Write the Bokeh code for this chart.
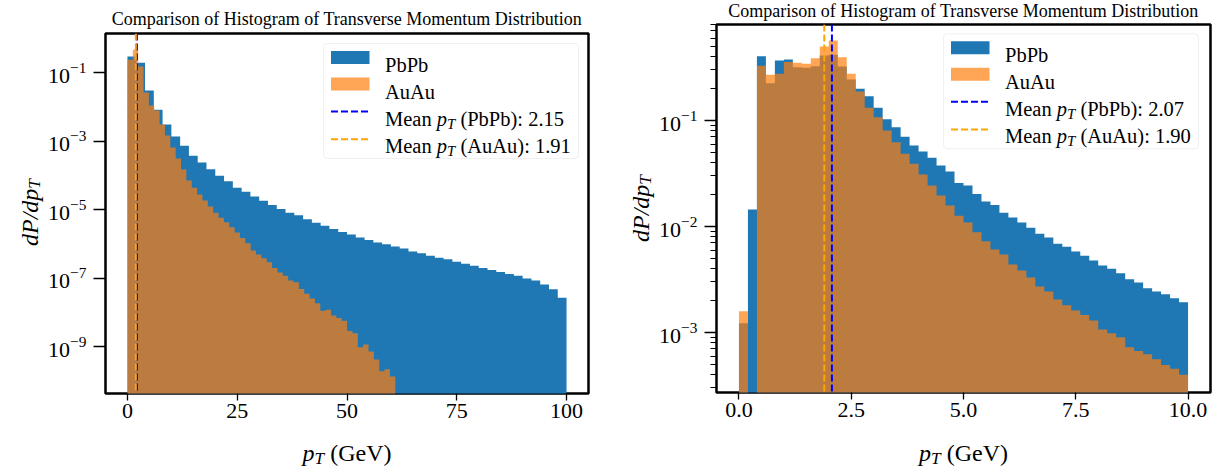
import math
import numpy as np
from bokeh.plotting import figure
from bokeh.layouts import row, column
from bokeh.models import (FixedTicker, Span, Label, BoxAnnotation, Arrow,
                          PrintfTickFormatter, Range1d, ColumnDataSource)
from bokeh.embed import file_html
from bokeh.resources import INLINE

# ---------------- data ----------------
TITLE = "Comparison of Histogram of Transverse Momentum Distribution"
SERIES = ["PbPb", "AuAu"]
N_BINS = 50

full_pbpb_range = [0.0, 100.0]
full_auau_range = [0.0, 61.0]
full_pbpb_density = [
    0.293, 0.192, 0.0298, 8.15e-3, 3.03e-3, 1.35e-3, 7.24e-4, 3.70e-4, 2.36e-4, 1.50e-4,
    9.64e-5, 6.70e-5, 4.30e-5, 3.29e-5, 2.40e-5, 1.80e-5, 1.35e-5, 1.03e-5, 8.01e-6, 6.82e-6,
    5.18e-6, 4.09e-6, 3.37e-6, 2.70e-6, 2.23e-6, 1.87e-6, 1.52e-6, 1.30e-6, 1.09e-6, 9.70e-7,
    8.31e-7, 7.26e-7, 5.94e-7, 5.30e-7, 4.45e-7, 3.89e-7, 3.54e-7, 2.97e-7, 2.60e-7, 2.27e-7,
    1.98e-7, 1.73e-7, 1.51e-7, 1.32e-7, 1.16e-7, 9.66e-8, 8.45e-8, 6.45e-8, 4.70e-8, 2.65e-8]
full_auau_density = [
    0.235, 0.460, 0.150, 0.0261, 0.01087, 7.78e-3, 3.03e-3, 1.45e-3, 6.46e-4, 3.08e-4,
    1.47e-4, 7.03e-5, 4.30e-5, 2.74e-5, 1.83e-5, 1.22e-5, 8.01e-6, 5.73e-6, 4.26e-6, 3.04e-6,
    2.13e-6, 1.49e-6, 1.04e-6, 6.35e-7, 4.85e-7, 3.79e-7, 2.89e-7, 1.98e-7, 1.45e-7, 1.16e-7,
    8.45e-8, 7.54e-8, 4.78e-8, 3.46e-8, 2.55e-8, 1.84e-8, 1.12e-8, 1.19e-8, 8.04e-9, 6.79e-9,
    5.63e-9, 2.85e-9, 2.44e-9, 9.54e-10, 1.14e-9, 7.14e-10, 4.17e-10, 1.90e-10, 2.17e-10, 1.33e-10]
full_mean_pbpb = 2.15
full_mean_auau = 1.91
full_x_ticks = [0, 25, 50, 75, 100]
full_y_ticks = [1e-9, 1e-7, 1e-5, 1e-3, 1e-1]

zoom_range = [0.0, 10.0]
zoom_pbpb_density = [
    1.22e-3, 0.01445, 0.405, 0.225, 0.368, 0.376, 0.318, 0.314, 0.325, 0.410,
    0.417, 0.323, 0.244, 0.199, 0.169, 0.132, 0.1028, 0.0865, 0.0702, 0.0581,
    0.0510, 0.0445, 0.0376, 0.0330, 0.0258, 0.0244, 0.0203, 0.0172, 0.0160, 0.01346,
    0.01216, 0.01091, 9.72e-3, 8.53e-3, 7.87e-3, 6.87e-3, 6.43e-3, 5.81e-3, 5.29e-3, 4.78e-3,
    4.29e-3, 3.99e-3, 3.63e-3, 3.18e-3, 2.96e-3, 2.62e-3, 2.44e-3, 2.30e-3, 2.11e-3, 1.93e-3]
zoom_auau_density = [
    1.59e-3, 0.0, 0.328, 0.270, 0.276, 0.356, 0.350, 0.343, 0.387, 0.499,
    0.569, 0.395, 0.276, 0.188, 0.132, 0.1074, 0.0805, 0.0624, 0.0485, 0.0391,
    0.0310, 0.0244, 0.0196, 0.01578, 0.01262, 0.01091, 8.83e-3, 7.26e-3, 6.07e-3, 5.44e-3,
    4.38e-3, 3.85e-3, 3.30e-3, 2.72e-3, 2.44e-3, 2.05e-3, 1.81e-3, 1.61e-3, 1.46e-3, 1.30e-3,
    1.07e-3, 9.85e-4, 9.03e-4, 7.26e-4, 6.71e-4, 6.23e-4, 5.60e-4, 4.95e-4, 4.54e-4, 3.99e-4]
zoom_mean_pbpb = 2.07
zoom_mean_auau = 1.90
zoom_x_ticks = [0, 2.5, 5, 7.5, 10]
zoom_y_ticks = [1e-3, 1e-2, 1e-1]

# ---------------- style ----------------
FONT = "Liberation Serif"
BLUE = "#1f77b4"
ORANGE = "#ff7f0e"
MEAN_BLUE = "#0000ff"
MEAN_ORANGE = "#ffa500"

REG = {' ': 0.25, '(': 0.333, ')': 0.333, ':': 0.278, '.': 0.25, 'M': 0.889,
       'e': 0.444, 'a': 0.444, 'n': 0.5, 'P': 0.556, 'b': 0.5, 'A': 0.722,
       'u': 0.5, 'G': 0.722, 'V': 0.722}
ITA = {'p': 0.5, 'T': 0.556, 'd': 0.5, 'P': 0.611, '/': 0.278}


def seg_width(text, italic, size):
    table = ITA if italic else REG
    return sum(table.get(c, 0.5) for c in text) * size


def rich_text(p, segs, x, y, size, anchor="left", vertical=False, drop_frac=0.25):
    """Text segments (text, italic, subscript) set on one baseline."""
    sizes = [size * 0.72 if sub else size for (_, _, sub) in segs]
    widths = [seg_width(t, it, s) for (t, it, _), s in zip(segs, sizes)]
    total = sum(widths)
    pos = -total / 2 if anchor == "center" else 0.0
    for (t, it, sub), s, w in zip(segs, sizes, widths):
        lead = len(t) - len(t.lstrip(" "))
        shown = t.strip(" ")
        off = pos + seg_width(" " * lead, it, s)
        drop = drop_frac * size if sub else 0.0
        if vertical:
            lx, ly, ang = x + drop, y + off, math.pi / 2
        else:
            lx, ly, ang = x + off, y - drop, 0.0
        p.add_layout(Label(x=lx, y=ly, x_units="screen", y_units="screen", text=shown,
                           angle=ang, text_font=FONT, text_font_size=f"{s:.1f}px",
                           text_font_style="italic" if it else "normal",
                           text_baseline="alphabetic", text_align="left",
                           text_color="black"))
        pos += w


def text_fig(w, h):
    f = figure(width=w, height=h, x_range=Range1d(0, 1), y_range=Range1d(0, 1),
               x_axis_location=None, y_axis_location=None, output_backend="svg",
               toolbar_location=None, min_border_left=0, min_border_right=0,
               min_border_top=0, min_border_bottom=0)
    f.outline_line_color = None
    f.grid.visible = False
    f.background_fill_color = "white"
    f.border_fill_color = "white"
    return f


def step_arrays(lo, hi, dens, floor):
    edges = np.linspace(lo, hi, N_BINS + 1)
    tops = [d if d > 0 else floor for d in dens]
    return dict(x=list(edges), y1=[floor] * (N_BINS + 1), y2=tops + [tops[-1]])


def make_main(pb_range, pb_dens, au_range, au_dens, mean_pb, mean_au,
              xr, yr, fw, fh, borders, xticks, yticks, yminor, xfmt, legend_inset):
    bl, br, bt, bb = borders
    p = figure(frame_width=fw, frame_height=fh, x_range=Range1d(*xr),
               y_range=Range1d(*yr), y_axis_type="log", output_backend="svg",
               toolbar_location=None, min_border_left=bl, min_border_right=br,
               min_border_top=bt, min_border_bottom=bb)
    p.xgrid.visible = False
    p.ygrid.visible = False
    p.outline_line_color = "black"
    p.outline_line_width = 2.5
    p.background_fill_color = "white"
    p.border_fill_color = "white"

    floor = yr[0] * 0.1
    p.varea_step(source=ColumnDataSource(step_arrays(pb_range[0], pb_range[1], pb_dens, floor)),
                 x="x", y1="y1", y2="y2", step_mode="after",
                 fill_color=BLUE, fill_alpha=1.0)
    p.varea_step(source=ColumnDataSource(step_arrays(au_range[0], au_range[1], au_dens, floor)),
                 x="x", y1="y1", y2="y2", step_mode="after",
                 fill_color=ORANGE, fill_alpha=0.7)

    p.add_layout(Span(location=mean_pb, dimension="height", line_color=MEAN_BLUE,
                      line_width=2, line_dash="7 3"))
    p.add_layout(Span(location=mean_au, dimension="height", line_color=MEAN_ORANGE,
                      line_width=2, line_dash="7 3"))

    p.xaxis.ticker = FixedTicker(ticks=xticks)
    p.yaxis.ticker = FixedTicker(ticks=yticks, minor_ticks=yminor)
    if xfmt is not None:
        p.xaxis.formatter = xfmt
    for ax in (p.xaxis[0], p.yaxis[0]):
        ax.axis_line_color = None
        ax.major_tick_line_color = "black"
        ax.major_tick_line_width = 1.3
        ax.major_tick_in = 0
        ax.minor_tick_line_color = "black"
        ax.minor_tick_line_width = 1
        ax.minor_tick_in = 0
        ax.major_label_text_font = FONT
        ax.major_label_text_font_size = "22px"
        ax.major_label_text_color = "black"
    p.xaxis.major_tick_out = 7
    p.xaxis.major_label_standoff = 3
    p.yaxis.major_tick_out = 12
    p.yaxis.minor_tick_out = 6
    p.yaxis.major_label_standoff = 7

    ri, ti = legend_inset
    bw, bh = 255, 115
    bx0 = fw - ri - bw
    by1 = fh - ti
    p.add_layout(BoxAnnotation(left=bx0, right=bx0 + bw, top=by1, bottom=by1 - bh,
                               left_units="screen", right_units="screen",
                               top_units="screen", bottom_units="screen",
                               fill_color="white", fill_alpha=0.8,
                               line_color="#cccccc", line_width=1, border_radius=4))
    px0, px1 = bx0 + 7.5, bx0 + 46
    for top_off, col, alpha in ((7.5, BLUE, 1.0), (34.0, ORANGE, 0.7)):
        p.add_layout(BoxAnnotation(left=px0, right=px1, top=by1 - top_off,
                                   bottom=by1 - top_off - 13,
                                   left_units="screen", right_units="screen",
                                   top_units="screen", bottom_units="screen",
                                   fill_color=col, fill_alpha=alpha, line_color=None))
    for y_off, col in ((68.0, MEAN_BLUE), (95.7, MEAN_ORANGE)):
        p.add_layout(Arrow(start=None, end=None, x_start=px0, x_end=px1,
                           y_start=by1 - y_off, y_end=by1 - y_off,
                           start_units="screen", end_units="screen",
                           line_color=col, line_width=2, line_dash="7 3"))
    tx = bx0 + 61.5
    fs = 20.5
    rich_text(p, [(SERIES[0], False, False)], tx, by1 - 14.6 - 6.5, fs)
    rich_text(p, [(SERIES[1], False, False)], tx, by1 - 41.8 - 6.5, fs)
    rich_text(p, [("Mean ", False, False), ("p", True, False), ("T", True, True),
                  (f" ({SERIES[0]}): {mean_pb:.2f}", False, False)],
              tx, by1 - 68.5 - 6.5, fs)
    rich_text(p, [("Mean ", False, False), ("p", True, False), ("T", True, True),
                  (f" ({SERIES[1]}): {mean_au:.2f}", False, False)],
              tx, by1 - 96.0 - 6.5, fs)
    return p


def make_panel(main, main_w, fw, total_h, ylab_w, title_h, title_y,
               ylab_x, ylab_y, xlab_h, xlab_y):
    # the text strips share the main frame's horizontal extent (layout aligns frames)
    tf = text_fig(main_w, title_h)
    tf.add_layout(Label(x=fw / 2, y=title_y, x_units="screen", y_units="screen",
                        text=TITLE, text_font=FONT, text_font_size="18px",
                        text_align="center", text_baseline="alphabetic",
                        text_color="black"))
    yf = text_fig(ylab_w, total_h)
    rich_text(yf, [("dP/dp", True, False), ("T", True, True)],
              ylab_x, ylab_y, 24, anchor="center", vertical=True, drop_frac=0.2)
    xf = text_fig(main_w, xlab_h)
    rich_text(xf, [("p", True, False), ("T", True, True), (" (GeV)", False, False)],
              fw / 2, xlab_y, 24, anchor="center")
    return row(yf, column(tf, main, xf))


left_minor = []
right_minor = [k * 10.0 ** e for e in (-4, -3, -2, -1) for k in range(2, 10)]

TOTAL_H = 468

# left: frame at x 105..588, y 33..393
m1 = make_main(full_pbpb_range, full_pbpb_density, full_auau_range, full_auau_density,
               full_mean_pbpb, full_mean_auau,
               xr=(-5, 105), yr=(10 ** -10.37, 10 ** 0.14), fw=483, fh=360,
               borders=(61, 23, 2, 45), xticks=full_x_ticks, yticks=full_y_ticks,
               yminor=left_minor, xfmt=None, legend_inset=(10, 10))
panel1 = make_panel(m1, main_w=61 + 483 + 23, fw=483, total_h=TOTAL_H, ylab_w=44,
                    title_h=31, title_y=13, ylab_x=29, ylab_y=TOTAL_H - 212,
                    xlab_h=TOTAL_H - 31 - 407, xlab_y=16)

# right: frame at x 716..1210, y 24..392
m2 = make_main(zoom_range, zoom_pbpb_density, zoom_range, zoom_auau_density,
               zoom_mean_pbpb, zoom_mean_auau,
               xr=(-0.5, 10.5), yr=(10 ** -3.566, 10 ** -0.094), fw=494, fh=368,
               borders=(61, 14, 2, 45), xticks=zoom_x_ticks, yticks=zoom_y_ticks,
               yminor=right_minor, xfmt=PrintfTickFormatter(format="%.1f"),
               legend_inset=(12, 9.3))
panel2 = make_panel(m2, main_w=61 + 494 + 14, fw=494, total_h=TOTAL_H, ylab_w=44,
                    title_h=22, title_y=12, ylab_x=29, ylab_y=TOTAL_H - 208,
                    xlab_h=TOTAL_H - 22 - 415, xlab_y=16)

layout = row(panel1, panel2)
open("out.html", "w").write(file_html(layout, INLINE))
